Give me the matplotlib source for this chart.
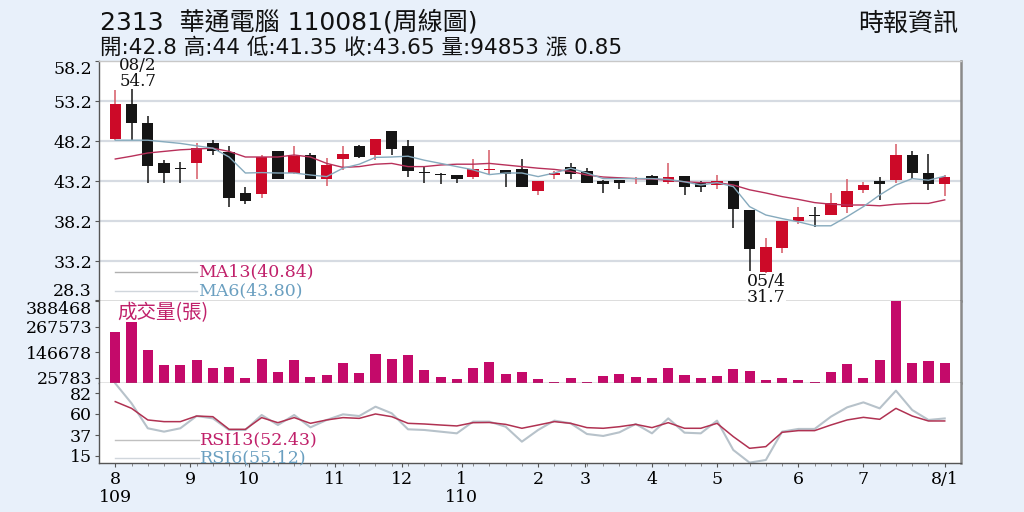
import matplotlib
matplotlib.use('Agg')
import matplotlib.pyplot as plt
import numpy as np

# ---------------- data ----------------
opens = [48.5, 52.8, 50.5, 45.5, 44.8, 45.5, 47.9, 46.8, 41.7, 41.6,
         46.9, 44.2, 46.45, 43.5, 46.0, 47.6, 46.5, 49.4, 47.6, 44.25,
         43.95, 43.9, 43.7, 44.6, 44.6, 44.75, 42.0, 44.0, 44.9, 44.5,
         43.25, 43.3, 43.45, 43.8, 43.05, 43.8, 42.9, 42.7, 43.25, 39.6,
         31.8, 34.8, 38.2, 38.8, 38.95, 40.0, 42.1, 43.2, 43.3, 46.45,
         44.25, 42.8]
highs = [54.6, 54.7, 51.3, 45.8, 45.6, 48.0, 48.3, 47.6, 42.5, 46.5,
         47.0, 47.6, 46.7, 46.1, 47.6, 47.7, 48.5, 49.5, 48.3, 44.9,
         44.2, 44.0, 45.95, 47.1, 44.6, 45.95, 43.25, 44.4, 45.5, 44.8,
         43.3, 43.3, 43.7, 44.0, 45.5, 43.8, 43.25, 44.0, 43.25, 39.6,
         36.1, 38.2, 39.9, 40.0, 41.7, 43.5, 43.1, 43.7, 47.8, 46.9,
         46.6, 44.0]
lows = [48.3, 48.3, 43.0, 43.0, 43.0, 43.4, 46.5, 40.0, 40.3, 41.1,
        43.4, 44.1, 43.4, 42.6, 44.6, 46.1, 45.8, 46.45, 43.7, 43.0,
        42.8, 42.9, 43.45, 43.9, 42.5, 42.45, 41.45, 43.45, 43.45, 42.9,
        41.7, 42.2, 42.8, 42.7, 42.8, 41.45, 41.8, 42.2, 37.3, 32.0,
        31.7, 34.2, 37.8, 37.5, 38.95, 39.2, 41.7, 40.8, 42.9, 43.5,
        42.1, 41.35]
closes = [52.8, 50.5, 45.1, 44.2, 44.75, 47.3, 47.0, 41.1, 40.7, 46.2,
          43.5, 46.3, 43.5, 45.2, 46.6, 46.2, 48.4, 47.2, 44.4, 44.2,
          43.9, 43.45, 44.7, 44.75, 44.1, 42.45, 43.25, 44.2, 44.1, 42.9,
          42.8, 43.0, 43.55, 42.7, 43.7, 42.45, 42.4, 43.25, 39.7, 34.7,
          34.9, 38.2, 38.65, 38.8, 40.4, 41.95, 42.7, 42.8, 46.45, 44.25,
          42.8, 43.65]
volumes = [240000, 289000, 158000, 87000, 87000, 109000, 73000, 77000, 22000, 114000,
           52000, 107000, 27000, 36000, 93000, 47000, 137000, 114000, 133000, 62000,
           27000, 17000, 73000, 101000, 43000, 54000, 17000, 3000, 24000, 6000,
           35000, 44000, 28000, 22000, 69000, 36000, 24000, 35000, 66000, 57000,
           16000, 24000, 13000, 3000, 54000, 88000, 24000, 107000, 388468, 95000,
           106000, 94853]
ma6 = [48.3, 48.3, 48.3, 48.1, 47.9, 47.6, 47.3, 46.2, 44.2, 44.25,
       44.2, 44.2, 43.95, 43.75, 44.8, 45.3, 46.15, 46.2, 46.3, 45.8,
       45.4, 45.0, 44.6, 44.0, 44.2, 44.2, 43.75, 44.2, 44.8, 44.2,
       43.5, 43.5, 43.5, 43.5, 43.4, 43.1, 42.7, 43.0, 42.5, 40.0,
       38.95, 38.5, 38.1, 37.6, 37.6, 38.75, 40.0, 41.45, 42.7, 43.5,
       43.3, 43.8]
ma13 = [45.95, 46.3, 46.7, 46.9, 47.1, 47.2, 47.3, 46.9, 46.2, 46.2,
        46.2, 46.45, 46.2, 45.4, 44.9, 45.0, 45.3, 45.4, 45.0, 45.0,
        45.2, 45.3, 45.3, 45.4, 45.2, 45.0, 44.8, 44.65, 44.4, 43.95,
        43.7, 43.6, 43.5, 43.45, 43.3, 43.1, 43.0, 43.0, 42.7, 42.1,
        41.7, 41.25, 40.9, 40.5, 40.3, 40.2, 40.2, 40.1, 40.3, 40.4,
        40.4, 40.84]
rsi13 = [73.1, 65.9, 53.5, 51.7, 51.7, 57.7, 57.0, 43.5, 43.5, 56.0,
         50.6, 56.0, 49.9, 53.5, 56.0, 55.2, 59.9, 57.0, 49.9, 49.2,
         48.1, 47.1, 50.6, 50.8, 48.8, 44.6, 48.1, 51.7, 49.9, 45.3,
         44.6, 46.3, 48.8, 45.3, 50.6, 44.6, 44.6, 49.9, 35.7, 23.2,
         25.0, 40.3, 42.1, 42.1, 48.1, 53.5, 56.3, 54.2, 65.9, 57.7,
         52.4, 52.43]
rsi6 = [92.6, 71.3, 44.6, 41.0, 44.6, 57.7, 55.2, 42.8, 42.8, 58.8,
        48.1, 58.8, 45.6, 53.5, 59.5, 57.7, 67.7, 60.6, 43.5, 42.8,
        41.0, 39.2, 51.7, 51.7, 46.3, 30.3, 42.8, 52.8, 49.9, 38.5,
        36.4, 40.3, 49.2, 39.2, 55.2, 39.9, 39.2, 52.8, 21.4, 7.9,
        10.7, 41.0, 43.9, 43.9, 57.0, 67.0, 72.3, 65.9, 84.8, 64.1,
        53.5, 55.12]

month_pos = [0, 4.6, 8.2, 13.5, 17.6, 21.3, 26, 28.9, 33, 37, 42, 46, 51]
month_labels = ['8\n109', '9', '10', '11', '12', '1\n110', '2', '3', '4', '5', '6', '7', '8/1']
price_ticks = [58.2, 53.2, 48.2, 43.2, 38.2, 33.2, 28.3]
vol_ticks = [388468, 267573, 146678, 25783]
rsi_ticks = [82, 60, 37, 15]

title_line1 = '2313  華通電腦 110081(周線圖)'
title_line2 = '開:42.8 高:44 低:41.35 收:43.65 量:94853 漲 0.85'
source_text = '時報資訊'
high_note = ('08/2', '54.7')
low_note = ('05/4', '31.7')

# ---------------- style ----------------
BG = '#e8f0fa'
RED = '#cc0a28'
BLACK = '#151515'
RED_WICK = '#d65a66'
VOL = '#c40a6a'
MA13_C = '#b8305a'
MA6_C = '#86aabd'
TXT_RED = '#c0206a'
TXT_BLUE = '#6a9fc0'
NUMF = ['DejaVu Serif', 'Noto Sans CJK TC']
HDRF = ['DejaVu Sans', 'Noto Sans CJK TC']

W, H = 1024, 512
fig = plt.figure(figsize=(10.24, 5.12), dpi=100, facecolor=BG)

L, R = 99, 961
def rect(top, bottom):
    return [L / W, 1 - bottom / H, (R - L) / W, (bottom - top) / H]

ax1 = fig.add_axes(rect(61, 301))
ax2 = fig.add_axes(rect(301, 383))
ax3 = fig.add_axes(rect(383, 463))

n = len(closes)
x = np.arange(n)
o = np.array(opens); c = np.array(closes)
hi = np.array(highs); lo = np.array(lows)
up = c > o
cols = np.where(up, RED, BLACK)
wcols = np.where(up, RED_WICK, BLACK)

for ax in (ax1, ax2, ax3):
    ax.set_facecolor('white')
    ax.set_xlim(-1, 52)
    for s in ax.spines.values():
        s.set_color('#555555')
        s.set_linewidth(1.0)
    ax.spines['right'].set_color('#8a8a8a')
    ax.spines['right'].set_linewidth(1.8)
    ax.tick_params(axis='y', length=3, width=0.8, color='#555555', labelsize=12.5, pad=2)

# ---- price panel ----
ax1.set_ylim(28.2, 58.2)
for g in price_ticks[1:-1]:
    ax1.axhline(g, color='#d6dbe2', lw=1.6, zorder=0)
ax1.spines['top'].set_color('#c8c8c8')
ax1.vlines(x, lo, hi, colors=wcols, lw=1.1, zorder=2)
body_h = np.maximum(np.abs(c - o), 0.12)
ax1.bar(x, body_h, bottom=np.minimum(o, c), width=0.7, color=cols, zorder=3, linewidth=0)
ax1.plot(x, ma13, color=MA13_C, lw=1.0, zorder=4)
ax1.plot(x, ma6, color=MA6_C, lw=1.0, zorder=4)
ax1.set_yticks(price_ticks)
ax1.set_yticklabels([f'{t:.1f}' for t in price_ticks], family=NUMF, fontsize=12.5)
ax1.get_yticklabels()[0].set_verticalalignment('top')
ax1.get_yticklabels()[-1].set_verticalalignment('bottom')
ax1.set_xticks([])

y13, y6 = (301 - 271.5) / 240, (301 - 291) / 240
ax1.plot([0.0186, 0.1137], [y13, y13], transform=ax1.transAxes, color='#b0b0b0', lw=1.0)
ax1.plot([0.0186, 0.1137], [y6, y6], transform=ax1.transAxes, color='#d0d6dc', lw=1.0)
ax1.text(0.1148, y13, 'MA13(40.84)', transform=ax1.transAxes, color=TXT_RED,
         fontsize=12.5, family=NUMF, va='center', ha='left')
ax1.text(0.1148, y6, 'MA6(43.80)', transform=ax1.transAxes, color=TXT_BLUE,
         fontsize=12.5, family=NUMF, va='center', ha='left')

# ---- volume panel ----
ax2.set_ylim(0, 388468)
ax2.bar(x, volumes, width=0.62, color=VOL, linewidth=0, zorder=2)
ax2.spines['top'].set_visible(False)
ax2.spines['bottom'].set_color('#777777')
ax2.set_yticks(vol_ticks)
ax2.set_yticklabels([str(t) for t in vol_ticks], family=NUMF, fontsize=12.5)
ax2.get_yticklabels()[0].set_verticalalignment('top')
ax2.set_xticks([])
ax2.text(0.021, 0.854, '成交量(張)', transform=ax2.transAxes, color=TXT_RED,
         fontsize=14, family=['Noto Sans CJK TC'], va='center', ha='left')

# ---- RSI panel ----
ax3.set_ylim(7.5, 93)
ax3.spines['top'].set_visible(False)
ax3.plot(x, rsi6, color='#b7c2ca', lw=1.5, zorder=2)
ax3.plot(x, rsi13, color='#b03252', lw=1.1, zorder=3)
ax3.set_yticks(rsi_ticks)
ax3.set_yticklabels([str(t) for t in rsi_ticks], family=NUMF, fontsize=12.5)
ax3.set_xticks(month_pos)
ax3.set_xticklabels(month_labels, family=NUMF, fontsize=12.5, linespacing=1.05)
ax3.set_xticks(x, minor=True)
ax3.tick_params(axis='x', which='major', length=3, color='#555555', pad=3)
ax3.tick_params(axis='x', which='minor', length=2, color='#777777')
r13, r6 = (463 - 439.5) / 80, (463 - 457.5) / 80
ax3.plot([0.0186, 0.1165], [r13, r13], transform=ax3.transAxes, color='#c0c0c0', lw=1.0)
ax3.plot([0.0186, 0.1165], [r6, r6], transform=ax3.transAxes, color='#d0d6dc', lw=1.0)
ax3.text(0.1172, r13, 'RSI13(52.43)', transform=ax3.transAxes, color=TXT_RED,
         fontsize=12.5, family=NUMF, va='center', ha='left')
ax3.text(0.1172, r6, 'RSI6(55.12)', transform=ax3.transAxes, color=TXT_BLUE,
         fontsize=12.5, family=NUMF, va='center', ha='left')

# ---- texts in figure pixel coordinates ----
def ftext(px, py, s, **kw):
    fig.text(px / W, 1 - py / H, s, **kw)

ftext(100, 22, title_line1, fontsize=18, family=HDRF, va='center', ha='left', color='#111111')
ftext(100, 47, title_line2, fontsize=15.5, family=HDRF, va='center', ha='left', color='#111111')
ftext(958, 24, source_text, fontsize=18, family=['Noto Sans CJK TC'], va='center', ha='right', color='#111111')

ftext(138, 66, high_note[0], fontsize=12, family=NUMF, va='center', ha='center', color='#111111')
ftext(138, 82, high_note[1], fontsize=12, family=NUMF, va='center', ha='center', color='#111111')
ftext(766, 281, low_note[0], fontsize=12.5, family=NUMF, va='center', ha='center', color='#111111')
fig.text(766 / W, 1 - 298 / H, low_note[1], fontsize=12.5, family=NUMF, va='center', ha='center',
         color='#111111', bbox=dict(facecolor='white', edgecolor='none', pad=0.5), zorder=10)

fig.savefig('out.png', dpi=100, facecolor=BG)
